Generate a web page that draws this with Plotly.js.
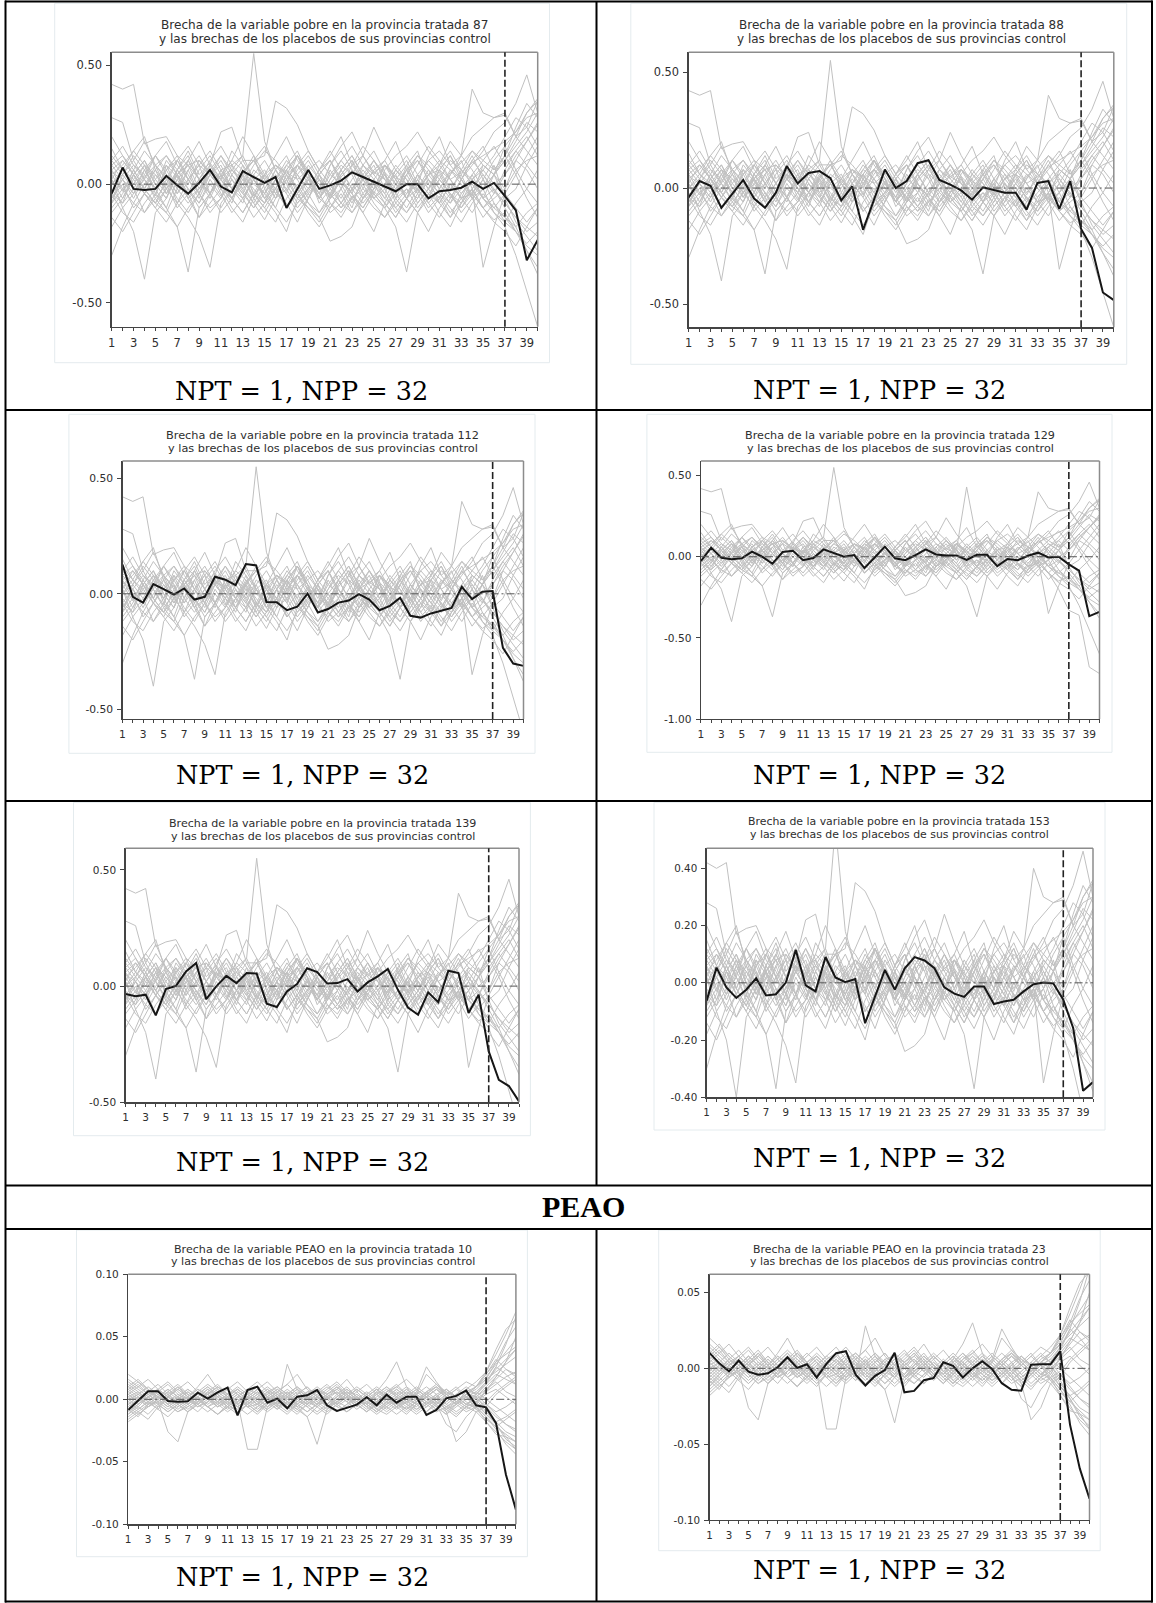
<!DOCTYPE html>
<html><head><meta charset="utf-8">
<script src="https://cdn.plot.ly/plotly-3.0.1.min.js"></script>
<style>html,body{margin:0;padding:0;background:#fff;}#chart{width:1156px;height:1603px;}</style>
</head><body><div id="chart"></div>
<script>
// ---------------- DATA ----------------
const years = [1,2,3,4,5,6,7,8,9,10,11,12,13,14,15,16,17,18,19,20,21,22,23,24,25,26,27,28,29,30,31,32,33,34,35,36,37,38,39,40];
const xTickText = years.map(y => (y % 2 === 1 ? String(y) : ''));
const treatmentYear = 37;

const treatedIds = ['87', '88', '112', '129', '139', '153', '10', '23'];
const variableNames = ['pobre', 'pobre', 'pobre', 'pobre', 'pobre', 'pobre', 'PEAO', 'PEAO'];
const nptLabel = 'NPT = 1, NPP = 32';
const sectionLabel = 'PEAO';

// treated-province gaps (black lines)
const gap87 = [-0.04,0.07,-0.02,-0.025,-0.02,0.035,-0.005,-0.04,0.005,0.06,-0.01,-0.035,0.055,0.03,0.005,0.03,-0.10,-0.02,0.06,-0.02,-0.005,0.015,0.05,0.03,0.01,-0.01,-0.03,0.0,0.0,-0.06,-0.03,-0.025,-0.015,0.01,-0.02,0.005,-0.05,-0.11,-0.32,-0.235];
const gap88 = [-0.04,0.03,0.01,-0.085,-0.025,0.035,-0.045,-0.085,-0.02,0.095,0.02,0.065,0.073,0.043,-0.053,0.007,-0.18,-0.05,0.08,0.0,0.03,0.107,0.12,0.035,0.015,-0.01,-0.05,0.003,-0.007,-0.02,-0.02,-0.093,0.022,0.03,-0.09,0.03,-0.176,-0.258,-0.45,-0.483];
const gap112 = [0.127,-0.013,-0.038,0.042,0.02,-0.003,0.023,-0.025,-0.013,0.074,0.061,0.038,0.129,0.123,-0.035,-0.036,-0.071,-0.056,0.001,-0.081,-0.066,-0.038,-0.029,-0.001,-0.025,-0.071,-0.052,-0.017,-0.095,-0.103,-0.085,-0.074,-0.061,0.03,-0.023,0.009,0.012,-0.234,-0.302,-0.312];
const gap129 = [-0.027,0.056,-0.006,-0.016,-0.01,0.031,0.0,-0.043,0.029,0.037,-0.021,-0.008,0.045,0.023,0.0,0.01,-0.07,-0.005,0.062,-0.01,-0.021,0.01,0.045,0.014,0.008,0.008,-0.019,0.012,0.012,-0.058,-0.014,-0.021,0.006,0.025,-0.004,0.0,-0.047,-0.086,-0.366,-0.34];
const gap139 = [-0.034,-0.044,-0.037,-0.126,-0.013,0.001,0.063,0.099,-0.056,-0.001,0.044,0.013,0.056,0.054,-0.076,-0.09,-0.023,0.009,0.077,0.06,0.011,0.013,0.03,-0.023,0.016,0.042,0.074,-0.016,-0.092,-0.123,-0.027,-0.069,0.066,0.056,-0.116,-0.037,-0.281,-0.403,-0.43,-0.496];
const gap153 = [-0.063,0.053,-0.016,-0.053,-0.024,0.016,-0.044,-0.04,0.001,0.115,-0.009,-0.03,0.09,0.019,0.002,0.013,-0.141,-0.05,0.045,-0.024,0.051,0.09,0.078,0.051,-0.016,-0.038,-0.049,-0.013,-0.013,-0.074,-0.065,-0.059,-0.03,-0.005,0.001,-0.002,-0.059,-0.158,-0.377,-0.347];
const gapPEAO10 = [-0.0085,-0.001,0.0064,0.0064,-0.0013,-0.002,-0.0016,0.0053,0.0005,0.0056,0.0093,-0.0128,0.0074,0.0101,-0.0027,0.0005,-0.0072,0.0021,0.0032,0.0074,-0.0048,-0.0093,-0.0069,-0.0043,0.0016,-0.0048,0.0037,-0.0027,0.0021,0.0021,-0.0125,-0.0085,0.0008,0.0027,0.0069,-0.0048,-0.0064,-0.0191,-0.0604,-0.0883];
const gapPEAO23 = [0.0102,0.0033,-0.002,0.0051,-0.0022,-0.0042,-0.0033,0.0007,0.0073,0.0002,0.0027,-0.006,0.0029,0.01,0.0113,-0.0042,-0.0113,-0.0049,-0.0011,0.0102,-0.0158,-0.0149,-0.0078,-0.0064,0.004,0.0016,-0.006,0.0,0.0047,-0.0004,-0.0098,-0.0142,-0.0147,0.0024,0.0027,0.0027,0.0113,-0.0371,-0.066,-0.086];

// placebo gaps, variable "pobre" (hundredths)
const placebosPobre = [
[42,40,42,17,19,20,12,8,10,5,3,6,2,0,4,8,5,2,6,10,4,0,-3,2,5,8,3,0,-2,4,6,2,5,9,12,15,18,22,28,30],
[28,26,10,18,8,12,6,14,4,9,2,-4,5,10,3,-2,6,12,4,0,-6,3,8,12,5,2,-3,6,10,4,-2,5,9,14,10,6,12,20,24,35],
[5,2,-6,3,8,-2,4,10,2,-4,6,8,12,55,18,6,-3,4,10,2,-5,6,12,3,-2,8,4,-6,2,10,5,-3,6,2,8,4,-2,10,18,25],
[-8,4,10,2,-5,8,3,-4,6,12,4,-2,5,10,12,35,32,25,14,6,10,2,-4,8,14,5,0,6,-3,4,10,6,2,-5,8,4,10,16,22,30],
[-30,-18,-8,-12,-4,-10,2,-6,-14,-4,-12,-6,0,-8,-15,-6,-2,-10,-4,2,-8,-12,-5,-10,-3,-8,-14,-6,-2,-10,-5,-12,-6,-4,-10,-15,-12,-20,-26,-30],
[2,-10,-20,-40,-12,-6,4,-2,-8,2,-5,4,-3,-10,-2,6,0,-8,-3,4,-6,2,-4,-10,-2,5,-6,-12,-4,2,-8,0,-6,-2,4,-3,-8,-14,-18,-22],
[4,-3,6,-2,-8,-12,-18,-37,-10,-4,2,-6,4,-2,-8,2,-10,-4,3,-6,0,-8,-12,-4,2,-6,-10,-16,-8,-2,4,-5,-10,-4,2,-8,-14,-20,-28,-35],
[-6,2,-4,6,-2,4,-8,-14,-22,-35,-8,-2,4,-6,-12,-4,-8,-16,-6,2,-4,-10,-2,4,-6,-2,-10,-4,2,-8,-14,-6,2,-4,-10,-6,-2,6,10,12],
[6,10,4,-2,8,3,-4,6,12,4,-2,8,3,-5,2,8,4,-6,-10,-14,-24,-22,-18,-6,-2,4,-8,-12,-6,2,-4,-10,-16,-8,-2,-12,-16,-20,-25,-20],
[-4,2,8,4,-2,6,10,2,-6,4,8,-2,-6,2,6,-4,2,8,4,-8,-2,4,10,-2,-6,-10,-18,-37,-12,-6,2,-4,-8,2,-6,-10,-4,4,12,20],
[2,-6,4,-2,6,-4,2,8,-2,4,10,2,-4,6,2,-6,4,-2,8,2,-4,6,12,4,-2,8,2,-6,4,10,14,8,12,40,30,28,29,20,30,35],
[10,4,-2,6,12,4,-4,2,8,14,6,-2,4,10,2,-6,4,8,14,6,12,20,8,2,-4,6,12,16,22,14,8,18,12,20,24,28,30,20,14,8],
[-12,-6,2,-4,-10,-2,4,-6,-2,6,-4,-12,-6,2,-4,-10,-16,-8,-2,4,-6,-2,6,-4,-10,-14,-8,-2,-6,2,-4,-8,-2,4,-6,-12,-18,-30,-45,-60],
[8,12,6,14,8,2,10,16,8,4,12,6,0,8,14,10,4,12,6,-2,8,14,6,2,10,4,-2,6,12,8,2,10,6,14,8,4,16,22,30,36],
[-4,-8,-2,-12,-6,0,-10,-4,-14,-8,-2,-6,-12,-4,-10,-16,-6,0,-8,-12,-4,-10,-6,0,-8,-14,-6,-2,-10,-4,-8,0,-6,-12,-4,-10,-14,-18,-12,-8],
[15,6,0,8,-4,6,12,2,-4,8,22,24,10,10,16,6,0,12,4,-6,2,10,16,8,2,-4,6,12,4,-2,8,14,6,0,-6,4,10,18,26,22],
[0,4,12,6,-2,10,4,-6,2,8,0,-8,4,12,-2,-10,2,8,0,-6,6,-2,-10,4,10,2,-4,8,14,0,-6,4,10,-2,6,12,20,28,24,16],
[-18,-10,-4,2,-6,-12,-2,6,-4,-10,-6,4,10,2,-6,-12,-20,-6,2,-4,-12,-8,0,-6,2,-4,-12,-6,4,-2,-8,-14,-4,2,-6,-2,-10,-18,-28,-38],
[10,16,8,2,12,6,-2,10,18,8,2,14,8,-4,4,12,20,10,4,-4,8,16,22,12,4,10,18,6,0,12,20,8,2,10,16,6,12,4,-6,-14],
[-2,-8,4,10,0,-6,6,12,2,-6,4,-2,8,2,-4,6,12,2,-6,4,10,0,-8,2,8,-2,4,10,0,-6,6,-2,4,12,2,-4,6,14,8,2],
[6,-2,-8,0,6,12,4,-4,2,10,16,8,-2,4,-6,2,10,4,-4,-12,-6,4,10,2,-6,0,8,2,-8,-2,6,12,4,-6,-2,8,-6,-16,-22,-28],
[-10,-4,6,-2,-8,2,-6,-12,-4,4,-2,-10,-16,-6,2,-4,6,-2,-8,-14,-6,2,-4,-12,-20,-8,0,-6,2,-4,-12,-18,-8,-2,-10,-4,4,12,18,26],
[4,8,14,20,6,0,10,4,-4,6,2,10,20,12,4,-2,8,14,4,-6,2,8,4,12,24,14,6,0,8,16,10,2,-6,4,10,16,8,14,20,12],
[-6,0,-10,-4,4,-2,-8,2,8,-4,-10,-2,6,-4,-8,2,-4,-12,-6,4,10,2,-6,-2,6,10,2,-6,-12,-4,2,-4,-10,-2,-35,-18,-4,-10,-16,-10],
[12,6,14,8,0,-6,4,10,2,-4,6,-2,-8,4,10,2,-4,8,2,-6,-10,-2,8,16,10,2,-6,4,12,6,-2,-8,2,10,4,-2,-8,-14,-20,-16],
[-14,-20,-12,-4,-10,-16,-8,-2,-10,-4,4,-6,-12,-4,-10,-2,6,-4,-10,-16,-8,-14,-6,-12,-4,-10,-2,4,-4,-12,-6,-14,-8,-2,-10,-16,-20,-26,-18,-10],
[2,10,4,-4,-8,-2,6,-2,-8,0,-6,2,-4,-10,-4,4,-2,6,12,4,-2,-8,-2,6,0,-6,2,8,-2,-8,-2,6,0,-6,2,10,16,6,-2,-8],
[8,2,-4,4,12,18,8,2,-4,6,12,4,-2,-8,0,8,2,-6,-2,6,14,6,-2,4,-4,-10,-4,4,10,2,-4,4,12,6,-2,4,12,24,34,28],
[-4,-12,-16,-8,-2,-10,-18,-10,-4,-12,-6,2,-6,-14,-8,-2,-10,-4,-12,-18,-10,-4,-12,-6,0,-8,-14,-6,-12,-20,-10,-4,-12,-6,-14,-8,-16,-8,-2,6],
[0,6,2,8,4,-2,4,8,2,-4,4,10,6,0,-4,2,8,4,-2,6,0,-6,2,8,4,-2,6,2,-4,4,8,2,-4,2,6,0,4,10,6,-2],
[-8,-2,4,-4,2,8,-2,-8,-2,6,0,-6,2,-6,4,-2,-10,-4,2,-6,0,6,-2,-8,-2,4,-4,-10,-2,6,0,-6,2,-6,-2,4,-6,-2,8,16],
[20,12,4,10,2,-4,6,0,10,4,-2,6,12,2,-6,-2,6,12,2,-4,4,10,4,-6,2,8,0,-4,4,-2,6,12,2,8,14,22,26,34,46,30]
];
// two placebo lines specific to province 129 (hundredths)
const placebosExtra129 = [
[2,-4,6,0,-6,4,8,2,-4,6,0,-6,2,8,4,-2,6,0,-6,4,10,2,-4,6,12,4,43,10,2,-6,4,8,2,-4,6,10,4,12,18,24],
[4,-2,-8,2,6,-4,2,8,-2,-6,4,0,-6,2,8,-2,-8,0,6,-4,-10,-2,4,-6,-2,6,0,-8,-2,4,-6,-2,4,-4,-10,-20,-33,-36,-68,-72]
];
// placebo gaps, variable "PEAO" (thousandths)
const placebosPEAO = [
[16,10,4,8,2,-4,2,8,4,-2,4,8,2,-4,6,10,4,-2,6,8,4,-2,2,8,2,-4,6,10,4,-2,6,12,6,2,8,4,12,26,44,66],
[-8,-14,-4,-2,-26,-34,-10,-4,2,-6,-2,4,-6,-4,-8,-2,6,-4,-10,-4,2,-6,-10,-4,2,-8,-12,-6,0,-8,-4,-10,-6,-2,-8,-4,-12,-20,-30,-40],
[4,-2,6,12,4,-4,2,10,20,8,2,-4,4,10,2,-6,28,8,2,-4,4,8,2,-6,4,10,4,-2,6,2,-4,4,8,2,-4,2,10,18,30,50],
[-4,2,-6,-2,4,-4,-10,-2,4,-2,-8,-2,-40,-40,-6,2,-4,-8,-2,4,-6,-2,4,-4,-10,-2,4,-4,-8,-2,4,-2,-8,-4,2,-6,-14,-24,-36,-44],
[10,4,-2,6,12,4,-2,4,10,2,-6,2,8,4,-2,6,12,20,8,2,-4,4,10,2,-4,6,16,30,10,-2,6,10,2,-4,4,8,16,30,46,58],
[-12,-6,2,-4,-10,-4,2,-6,-2,4,-4,-10,-4,2,-6,-2,4,-6,-14,-36,-8,-2,-6,2,-4,-10,-4,2,-4,-8,-2,4,-10,-34,-26,-10,-6,4,10,16],
[6,12,4,-2,4,10,2,-4,6,12,4,-2,6,10,2,-4,4,10,2,-6,2,8,16,6,-2,4,10,2,-4,6,26,14,4,-2,6,10,20,32,24,18],
[-2,-8,-2,4,-4,-10,-4,2,-6,-12,-4,2,-4,-10,-2,4,-6,-12,-4,2,-6,-2,4,-4,-10,-4,2,-6,-12,-4,2,-6,-12,-4,2,-8,-16,-22,-28,-34],
[2,6,-2,-8,2,8,2,-4,4,10,2,-6,0,6,-2,-8,2,8,2,-4,4,10,2,-6,2,8,0,-6,2,8,2,-4,4,10,2,-4,8,14,6,2],
[-6,0,6,2,-4,2,8,2,-6,-2,4,-4,2,8,2,-4,2,8,-2,-6,2,6,-2,-8,-2,4,-4,2,8,2,-4,2,8,2,-4,2,-6,-14,-20,-24],
[12,6,0,-6,2,10,4,-2,4,10,4,-4,2,8,14,6,-2,4,10,2,-6,2,8,2,-4,4,10,4,-2,4,10,4,-4,2,8,14,22,36,52,70],
[-16,-10,-4,2,-4,-10,-6,0,-6,-12,-6,0,-4,-10,-4,2,-4,-10,-4,2,-6,-10,-4,2,-6,-12,-6,0,-6,-12,-6,0,-6,-12,-6,-2,-12,-18,-14,-8],
[0,4,10,4,-2,4,0,-6,-2,4,10,4,-2,4,10,4,-2,-6,0,6,12,4,-2,4,-2,-6,0,6,0,-4,2,8,2,-4,4,10,16,22,28,34],
[8,2,-4,2,8,2,-4,-10,-2,4,-2,-8,-2,4,-2,-8,-2,4,10,2,-4,2,8,2,-4,-10,-2,4,-2,-6,2,8,2,-4,2,6,0,-6,-12,-18],
[-4,-10,-16,-6,2,-4,-10,-4,2,8,2,-4,2,8,2,-4,-10,-4,2,8,2,-4,-10,-4,2,8,2,-6,-2,4,-2,-8,-2,4,10,4,12,20,16,12],
[14,8,2,6,0,-6,0,6,12,6,0,-6,0,6,0,-6,-12,-4,2,-4,-10,-4,2,8,2,-4,2,8,2,-4,-10,-2,4,-2,4,10,22,40,56,64],
[-10,-4,2,8,2,-4,2,-4,-10,-4,2,8,2,-4,2,8,2,-4,-10,-4,2,-4,-10,-4,2,8,2,-4,-10,-4,2,-4,-20,-26,-14,-6,-18,-28,-30,-34],
[4,10,16,8,2,8,14,6,0,-6,0,6,0,-6,0,6,12,4,-2,4,10,4,-2,4,-2,-8,-2,4,10,4,20,12,4,-2,4,2,8,16,24,20],
[-2,4,-2,-8,-14,-6,0,-6,0,6,0,-6,-12,-6,0,6,0,-6,0,6,0,-6,0,6,12,4,-2,-8,-2,4,-2,-8,-2,4,-2,-8,-4,-12,-20,-26],
[10,16,8,2,8,2,-4,2,8,2,-4,2,8,14,6,0,-6,0,6,0,-6,0,6,0,-6,0,6,12,4,-2,4,-2,-8,-2,4,10,18,28,38,48],
[-14,-8,-2,4,-2,-8,-2,4,10,4,-2,4,-2,-8,-2,4,-2,-8,-14,-6,0,6,0,-6,0,6,0,-6,0,6,0,-6,-12,-6,0,4,-4,-10,-6,0],
[6,0,-6,0,6,12,4,-2,4,10,4,-2,4,-2,-8,-2,4,10,4,-2,4,10,4,-2,-8,-2,4,-2,-8,-2,4,10,4,-2,4,0,6,12,18,22],
[-6,-12,-6,0,6,0,-6,0,6,0,-6,0,-6,-12,-4,2,8,2,-4,2,-4,-10,-4,2,-4,-10,-4,2,8,2,-4,2,-4,-10,-4,0,-10,-18,-26,-30],
[2,-4,2,8,14,6,0,6,0,-6,0,6,0,6,0,-6,0,6,0,-6,-12,-4,2,-4,2,8,2,-4,2,8,2,-4,-10,-4,2,6,14,24,32,40],
[0,-6,-12,-4,2,8,2,-4,2,-4,-10,-4,2,-4,2,8,2,-4,2,8,2,-4,2,-4,-10,-4,2,8,2,-4,-10,-4,2,8,2,-2,4,8,2,-4],
[-8,-2,4,-2,4,-2,-8,-2,4,10,4,-2,4,-2,4,10,4,-2,4,-2,-8,-2,4,10,4,-2,4,-2,-8,-2,4,10,4,-2,4,2,-8,-20,-32,-38],
[8,14,6,0,-6,0,6,0,-6,0,-6,-12,-4,2,8,2,-4,2,-4,2,8,14,6,0,6,0,-6,0,6,0,-6,0,6,0,-6,-2,6,18,30,40],
[-12,-4,2,-4,-10,-4,2,8,2,-4,2,8,2,-4,-10,-4,2,-4,2,8,2,-4,2,8,2,-4,-10,-4,2,-4,2,8,2,-4,-10,-6,-14,-22,-16,-10],
[4,-2,4,-2,-8,-2,4,-2,4,-2,4,10,4,-2,4,-2,-8,-2,4,10,4,-2,4,-2,4,-2,-8,-2,4,10,4,-2,-8,-14,-6,4,14,26,20,12],
[-4,2,-4,2,8,2,-4,2,8,2,-4,-10,-4,2,8,2,-4,2,-4,-10,-4,2,8,2,-4,2,8,2,-4,-10,-4,2,8,2,-4,-6,-2,6,12,18],
[20,14,8,2,-4,2,8,2,-4,2,8,14,6,0,-6,0,6,0,-6,0,6,12,4,-2,4,-2,4,10,16,8,2,-4,2,8,14,10,20,30,36,42],
[-18,-12,-6,0,-6,0,6,0,-6,-12,-6,0,-6,0,6,0,-6,0,-6,-12,-6,0,6,0,-6,0,-6,-12,-6,0,6,0,-6,0,-6,-10,-18,-26,-34,-40]
];

// y-axis ticks
const yTicksPobre = [-0.5, 0, 0.5];
const yTickTextPobre = ['-0.50', '0.00', '0.50'];
const yTicks129 = [-1.0, -0.5, 0, 0.5];
const yTickText129 = ['-1.00', '-0.50', '0.00', '0.50'];
const yTicks153 = [-0.4, -0.2, 0, 0.2, 0.4];
const yTickText153 = ['-0.40', '-0.20', '0.00', '0.20', '0.40'];
const yTicksPEAO10 = [-0.1, -0.05, 0, 0.05, 0.1];
const yTickTextPEAO10 = ['-0.10', '-0.05', '0.00', '0.05', '0.10'];
const yTicksPEAO23 = [-0.1, -0.05, 0, 0.05];
const yTickTextPEAO23 = ['-0.10', '-0.05', '0.00', '0.05'];

// ---------------- BUILD ----------------
const W = 1156, H = 1603;
const px = x => x / W;
const py = y => 1 - y / H;

const greyPobre = placebosPobre.map(l => l.map(v => v / 100));
const grey129 = placebosPobre.filter((_, i) => i !== 3 && i !== 7).concat(placebosExtra129).map(l => l.map(v => v / 100));
const greyPEAO = placebosPEAO.map(l => l.map(v => v / 1000));

const panels = [
  {gap: gap87, grey: greyPobre, yt: yTicksPobre, ytt: yTickTextPobre, yr: [-0.6, 0.555],
   g: {L: 111.7, R: 537.7, T: 52.3, B: 326.7}, box: [54.7, 549.5, 3.3, 362.7], tcx: 324.5, ty: [25, 39], fs: 12.1, npt: [301, 391]},
  {gap: gap88, grey: greyPobre, yt: yTicksPobre, ytt: yTickTextPobre, yr: [-0.6, 0.585],
   g: {L: 688.7, R: 1113.8, T: 52.3, B: 327.3}, box: [630.8, 1126.7, 3.3, 364.3], tcx: 901, ty: [25, 39], fs: 12, npt: [879, 390]},
  {gap: gap112, grey: greyPobre, yt: yTicksPobre, ytt: yTickTextPobre, yr: [-0.542, 0.575],
   g: {L: 122.5, R: 523.5, T: 461, B: 719}, box: [68.9, 535, 414.3, 753.3], tcx: 322.6, ty: [435, 448.3], fs: 11.3, npt: [302, 775]},
  {gap: gap129, grey: grey129, yt: yTicks129, ytt: yTickText129, yr: [-1.0, 0.59],
   g: {L: 700.9, R: 1099.5, T: 461, B: 719}, box: [646.9, 1112, 414.3, 752.3], tcx: 900, ty: [435, 448.3], fs: 11.2, npt: [879.5, 775]},
  {gap: gap139, grey: greyPobre, yt: yTicksPobre, ytt: yTickTextPobre, yr: [-0.5, 0.593],
   g: {L: 125.5, R: 519, T: 848.3, B: 1102.3}, box: [73.5, 530.4, 802.3, 1135.7], tcx: 322.6, ty: [823.3, 836.7], fs: 11.1, npt: [302, 1161.7]},
  {gap: gap153, grey: greyPobre, yt: yTicks153, ytt: yTickText153, yr: [-0.4, 0.47],
   g: {L: 706.6, R: 1093, T: 848.3, B: 1097.3}, box: [654, 1105, 802.3, 1130], tcx: 899, ty: [821.7, 835], fs: 10.9, npt: [879.5, 1158.3]},
  {gap: gapPEAO10, grey: greyPEAO, yt: yTicksPEAO10, ytt: yTickTextPEAO10, yr: [-0.1, 0.1],
   g: {L: 128.2, R: 515.9, T: 1274.3, B: 1524.3}, box: [76.5, 527.4, 1230, 1556.7], tcx: 322.6, ty: [1249, 1261.7], fs: 11.1, npt: [302, 1576.7]},
  {gap: gapPEAO23, grey: greyPEAO, yt: yTicksPEAO23, ytt: yTickTextPEAO23, yr: [-0.1, 0.062],
   g: {L: 709.5, R: 1089.5, T: 1274.3, B: 1520}, box: [658.7, 1100.2, 1230, 1550.7], tcx: 899, ty: [1249, 1261.7], fs: 10.9, npt: [879.5, 1570]}
];

const traces = [];
const shapes = [];
const annotations = [];
const layout = {
  width: W, height: H, margin: {l: 0, r: 0, t: 0, b: 0, pad: 0},
  paper_bgcolor: '#ffffff', plot_bgcolor: '#ffffff',
  showlegend: false, hovermode: false
};

const sansFont = 'DejaVu Sans, Liberation Sans, Arial, sans-serif';

panels.forEach((p, i) => {
  const n = i + 1;
  const xa = n === 1 ? 'x' : 'x' + n;
  const ya = n === 1 ? 'y' : 'y' + n;
  const tf = {family: sansFont, size: p.fs - 0.6, color: '#2e2e2e'};

  layout[n === 1 ? 'xaxis' : 'xaxis' + n] = {
    domain: [px(p.g.L), px(p.g.R)], anchor: ya, range: [1, 40],
    tickmode: 'array', tickvals: years, ticktext: xTickText,
    ticks: 'outside', ticklen: 3, tickwidth: 1, tickcolor: '#444',
    showline: true, linecolor: '#444', linewidth: 1.3,
    showgrid: false, zeroline: false, tickfont: tf, ticklabelstandoff: 2, fixedrange: true
  };
  layout[n === 1 ? 'yaxis' : 'yaxis' + n] = {
    domain: [py(p.g.B), py(p.g.T)], anchor: xa, range: p.yr,
    tickmode: 'array', tickvals: p.yt, ticktext: p.ytt,
    ticks: 'outside', ticklen: 4, tickwidth: 1, tickcolor: '#444',
    showline: true, linecolor: '#444', linewidth: 1.3,
    showgrid: false, zeroline: false, tickfont: tf, ticklabelstandoff: 2, fixedrange: true
  };

  p.grey.forEach(series => {
    traces.push({x: years, y: series, xaxis: xa, yaxis: ya, type: 'scatter', mode: 'lines',
      line: {color: 'rgb(192,192,192)', width: 1}, hoverinfo: 'skip'});
  });
  traces.push({x: years, y: p.gap, xaxis: xa, yaxis: ya, type: 'scatter', mode: 'lines',
    line: {color: '#161616', width: 2}, hoverinfo: 'skip'});

  // embedded-image frame
  shapes.push({type: 'rect', xref: 'paper', yref: 'paper', x0: px(p.box[0]), x1: px(p.box[1]),
    y0: py(p.box[3]), y1: py(p.box[2]), line: {color: '#e4ebee', width: 1}, fillcolor: 'rgba(0,0,0,0)', layer: 'below'});
  // top & right frame of the plot area
  shapes.push({type: 'line', xref: xa + ' domain', yref: ya + ' domain', x0: 0, x1: 1, y0: 1, y1: 1,
    line: {color: '#8c8c8c', width: 1.5}});
  shapes.push({type: 'line', xref: xa + ' domain', yref: ya + ' domain', x0: 1, x1: 1, y0: 0, y1: 1,
    line: {color: '#8c8c8c', width: 1.5}});
  // zero reference line
  shapes.push({type: 'line', xref: xa + ' domain', yref: ya, x0: 0, x1: 1, y0: 0, y1: 0,
    line: {color: '#555555', width: 1, dash: '8px,3px,2px,3px'}});
  // treatment year
  shapes.push({type: 'line', xref: xa, yref: ya + ' domain', x0: treatmentYear, x1: treatmentYear, y0: 0, y1: 1,
    line: {color: '#222222', width: 1.6, dash: '7px,3px'}});

  const tfont = {family: sansFont, size: p.fs, color: '#2e2e2e'};
  annotations.push({xref: 'paper', yref: 'paper', x: px(p.tcx), y: py(p.ty[0]), xanchor: 'center', yanchor: 'middle',
    showarrow: false, text: 'Brecha de la variable ' + variableNames[i] + ' en la provincia tratada ' + treatedIds[i], font: tfont});
  annotations.push({xref: 'paper', yref: 'paper', x: px(p.tcx), y: py(p.ty[1]), xanchor: 'center', yanchor: 'middle',
    showarrow: false, text: 'y las brechas de los placebos de sus provincias control', font: tfont});
  annotations.push({xref: 'paper', yref: 'paper', x: px(p.npt[0]), y: py(p.npt[1]), xanchor: 'center', yanchor: 'middle',
    showarrow: false, text: nptLabel, font: {family: 'DejaVu Serif, Liberation Serif, serif', size: 25.5, color: '#000000'}});
});

annotations.push({xref: 'paper', yref: 'paper', x: px(583.5), y: py(1206), xanchor: 'center', yanchor: 'middle',
  showarrow: false, text: '<b>' + sectionLabel + '</b>', font: {family: 'Liberation Serif, Times New Roman, serif', size: 30, color: '#000000'}});

// table borders
const tl = {color: '#000000', width: 2};
const hLines = [1.5, 410, 801, 1185.5, 1229, 1601.5];
hLines.forEach(y => shapes.push({type: 'line', xref: 'paper', yref: 'paper', x0: px(5), x1: px(1152.5), y0: py(y), y1: py(y), line: tl}));
shapes.push({type: 'line', xref: 'paper', yref: 'paper', x0: px(5.5), x1: px(5.5), y0: py(0.5), y1: py(1602.5), line: tl});
shapes.push({type: 'line', xref: 'paper', yref: 'paper', x0: px(1152), x1: px(1152), y0: py(0.5), y1: py(1602.5), line: tl});
shapes.push({type: 'line', xref: 'paper', yref: 'paper', x0: px(596.5), x1: px(596.5), y0: py(1.5), y1: py(1185.5), line: tl});
shapes.push({type: 'line', xref: 'paper', yref: 'paper', x0: px(596.5), x1: px(596.5), y0: py(1229), y1: py(1601.5), line: tl});

layout.shapes = shapes;
layout.annotations = annotations;

Plotly.newPlot('chart', traces, layout, {displayModeBar: false, staticPlot: true, responsive: false});
</script>
</body></html>
